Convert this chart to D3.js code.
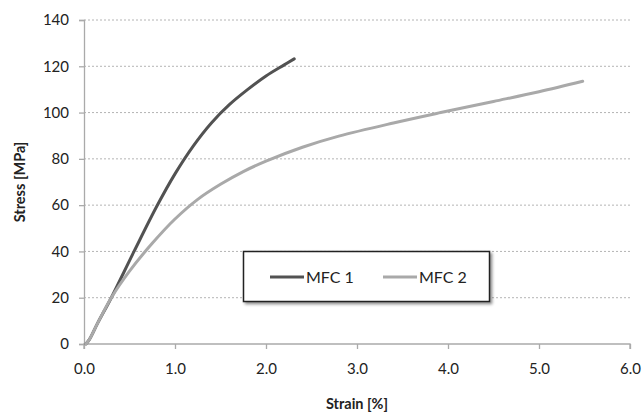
<!DOCTYPE html>
<html><head><meta charset="utf-8">
<script src="https://cdn.jsdelivr.net/npm/d3@7"></script>
<style>body{margin:0;background:#fff}svg{display:block}</style>
</head><body><svg id="c" width="642" height="413"></svg>
<script>
const seriesNames = ["MFC 1", "MFC 2"];
const mfc1Strain = [0.02, 0.06, 0.15, 0.3, 0.55, 0.8, 1.0, 1.2, 1.4, 1.6, 1.8, 2.0, 2.2, 2.31];
const mfc1Stress = [0, 2, 9, 20, 40, 59.5, 73.5, 85.5, 95.5, 103.5, 110, 115.8, 120.6, 123.2];
const mfc2Strain = [0.02, 0.06, 0.15, 0.3, 0.5, 0.75, 1.0, 1.25, 1.5, 1.75, 2.0, 2.4, 2.8, 3.4, 3.92, 4.5, 5.0, 5.48];
const mfc2Stress = [0, 2, 9, 20, 31.5, 43.5, 54, 62.5, 69, 74.5, 79, 85, 89.8, 95.5, 100, 104.8, 109, 113.5];
const xTicks = [0, 1, 2, 3, 4, 5, 6];
const yTicks = [0, 20, 40, 60, 80, 100, 120, 140];
const colors = ["#525252", "#a9a9a9"];

const svg = d3.select("#c");
const m = {l: 84, r: 630, t: 20, b: 344};
const x = d3.scaleLinear().domain([0, 6]).range([m.l, m.r]);
const y = d3.scaleLinear().domain([0, 140]).range([m.b, m.t]);
const font = "Lato, 'Open Sans', sans-serif";

// grid
svg.append("g").selectAll("line").data(yTicks.filter(d => d > 0)).join("line")
  .attr("x1", m.l).attr("x2", m.r).attr("y1", d => y(d)).attr("y2", d => y(d))
  .attr("stroke", "#b4b4b4").attr("stroke-width", 1).attr("stroke-dasharray", "2,2");

// axes
const xa = svg.append("g").attr("transform", `translate(0,${m.b})`)
  .call(d3.axisBottom(x).tickValues(xTicks).tickFormat(d3.format(".1f")).tickSize(5).tickPadding(14));
const ya = svg.append("g").attr("transform", `translate(${m.l},0)`)
  .call(d3.axisLeft(y).tickValues(yTicks).tickSize(5).tickPadding(10));
[xa, ya].forEach(a => {
  a.select(".domain").attr("stroke", "#aaa").attr("stroke-width", 1.3);
  a.selectAll(".tick line").attr("stroke", "#aaa").attr("stroke-width", 1.3);
  a.selectAll("text").attr("font-family", font).attr("font-size", 15).attr("fill", "#222");
});
xa.select(".domain").attr("d", `M${m.l},5V0H${m.r}V5`);

// lines
const data = [d3.zip(mfc1Strain, mfc1Stress), d3.zip(mfc2Strain, mfc2Stress)];
const line = d3.line().x(d => x(d[0])).y(d => y(d[1])).curve(d3.curveCatmullRom.alpha(0.5));
svg.append("g").selectAll("path").data(data).join("path")
  .attr("d", line).attr("fill", "none")
  .attr("stroke", (d, i) => colors[i]).attr("stroke-width", 3).attr("stroke-linecap", "round");

// titles
svg.append("text").attr("x", 357).attr("y", 409).attr("text-anchor", "middle")
  .attr("font-family", font).attr("font-weight", "bold").attr("font-size", 14.5).attr("fill", "#222")
  .text("Strain [%]");
svg.append("text").attr("transform", "translate(25,182) rotate(-90)").attr("text-anchor", "middle")
  .attr("font-family", font).attr("font-weight", "bold").attr("font-size", 14.5).attr("fill", "#222")
  .text("Stress [MPa]");

// legend
const defs = svg.append("defs");
const f = defs.append("filter").attr("id", "sh").attr("x", "-10%").attr("y", "-20%").attr("width", "130%").attr("height", "150%");
f.append("feDropShadow").attr("dx", 2).attr("dy", 2).attr("stdDeviation", 1.5).attr("flood-color", "#000").attr("flood-opacity", 0.45);
const lg = svg.append("g");
lg.append("rect").attr("x", 243.5).attr("y", 251.5).attr("width", 246).attr("height", 50)
  .attr("fill", "#fff").attr("stroke", "#222").attr("stroke-width", 1.5).attr("filter", "url(#sh)");
const items = lg.selectAll("g").data(seriesNames).join("g")
  .attr("transform", (d, i) => `translate(${270 + i * 113},277)`);
items.append("line").attr("x1", 0).attr("x2", 34).attr("stroke", (d, i) => colors[i]).attr("stroke-width", 3);
items.append("text").attr("x", 36).attr("dy", "0.36em").attr("font-family", font).attr("font-size", 16).attr("fill", "#222").text(d => d);
</script></body></html>
